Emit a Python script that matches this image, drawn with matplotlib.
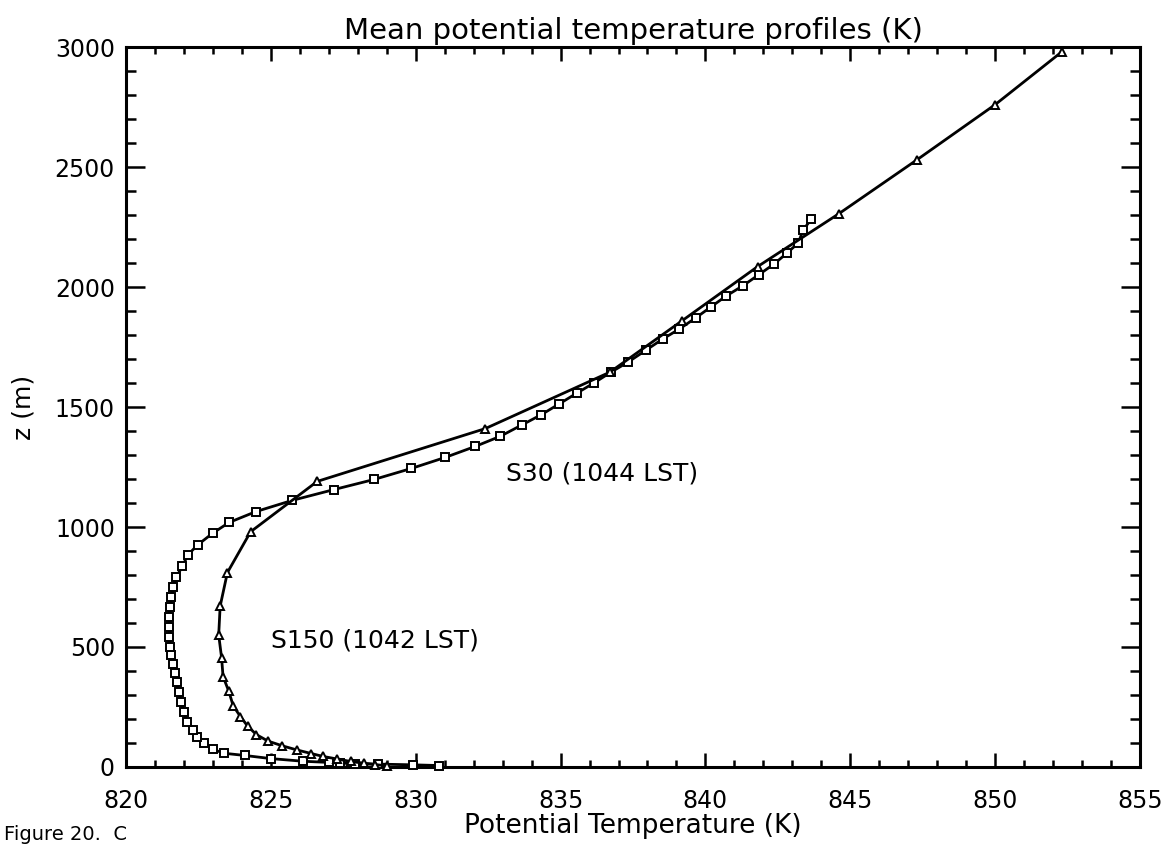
import matplotlib
matplotlib.use("Agg")
import matplotlib.pyplot as plt
from matplotlib.ticker import MultipleLocator

# S150 profile (triangles): potential temperature (K) and height (m)
tri_theta = [829.0, 828.6, 828.2, 827.75, 827.3, 826.8, 826.4, 825.9, 825.4, 824.9,
             824.5, 824.2, 823.95, 823.7, 823.55, 823.35, 823.3, 823.2, 823.25, 823.5,
             824.3, 826.6, 832.4, 836.7, 839.2, 841.8, 844.6, 847.3, 850.0, 852.3]
tri_z = [5, 10, 16, 23, 33, 44, 56, 71, 88, 108,
         135, 170, 210, 255, 315, 377, 455, 550, 670, 810,
         980, 1190, 1410, 1645, 1860, 2085, 2305, 2530, 2760, 2980]

# S30 profile (squares)
sq_theta = [830.8, 829.9, 828.7, 827.9, 827.4, 827.0, 826.1, 825.0, 824.1, 823.4,
            823.0, 822.7, 822.45, 822.3, 822.1, 822.0, 821.9, 821.83, 821.75, 821.68,
            821.62, 821.56, 821.51, 821.5, 821.49, 821.48, 821.52, 821.57, 821.63, 821.74,
            821.95, 822.13, 822.47, 822.99, 823.56, 824.48, 825.74, 827.18, 828.56, 829.85,
            831.02, 832.06, 832.92, 833.66, 834.32, 834.94, 835.55, 836.15, 836.75, 837.34,
            837.95, 838.52, 839.1, 839.66, 840.2, 840.72, 841.29, 841.85, 842.37, 842.82,
            843.2, 843.38, 843.65]
sq_z = [6, 9, 12, 14, 16, 19, 24, 35, 48, 57,
        73, 98, 125, 153, 188, 229, 271, 312, 354, 391,
        430, 465, 500, 542, 584, 626, 667, 709, 751, 793,
        836, 883, 925, 974, 1019, 1064, 1111, 1156, 1198, 1244,
        1290, 1336, 1378, 1425, 1467, 1512, 1557, 1600, 1646, 1688,
        1737, 1783, 1825, 1871, 1918, 1963, 2005, 2052, 2096, 2142,
        2183, 2239, 2282]

labels = ["S30 (1044 LST)", "S150 (1042 LST)"]
label_pos = [(833.1, 1225), (825.0, 528)]

plt.rcParams["font.family"] = "DejaVu Sans"

fig = plt.figure(figsize=(11.72, 8.46), dpi=100)
ax = fig.add_axes([0.1075, 0.0934, 0.8652, 0.851])

ax.plot(sq_theta, sq_z, color="black", lw=2.0, marker="s", ms=6.0,
        mfc="white", mec="black", mew=1.4, clip_on=False, zorder=3)
ax.plot(tri_theta, tri_z, color="black", lw=2.0, marker="^", ms=6.4,
        mfc="white", mec="black", mew=1.4, clip_on=False, zorder=4)

for text, (x, y) in zip(labels, label_pos):
    ax.text(x, y, text, fontsize=18, ha="left", va="center")

ax.set_xlim(820, 855)
ax.set_ylim(0, 3000)
ax.xaxis.set_major_locator(MultipleLocator(5))
ax.xaxis.set_minor_locator(MultipleLocator(1))
ax.yaxis.set_major_locator(MultipleLocator(500))
ax.yaxis.set_minor_locator(MultipleLocator(100))

ax.tick_params(which="both", direction="in", top=True, right=True,
               width=1.8, labelsize=17)
ax.tick_params(axis="x", which="major", length=10, pad=16)
ax.tick_params(axis="x", which="minor", length=5)
ax.tick_params(axis="y", which="major", length=14, pad=8)
ax.tick_params(axis="y", which="minor", length=7)
for sp in ax.spines.values():
    sp.set_linewidth(2.2)

ax.set_title("Mean potential temperature profiles (K)", fontsize=21, pad=6)
ax.set_xlabel("Potential Temperature (K)", fontsize=19, labelpad=0)
ax.set_ylabel("z (m)", fontsize=18, labelpad=14)

fig.text(0.003, 0.002, "Figure 20.  C", fontsize=14, ha="left", va="bottom")

fig.savefig("out.png", dpi=100)
